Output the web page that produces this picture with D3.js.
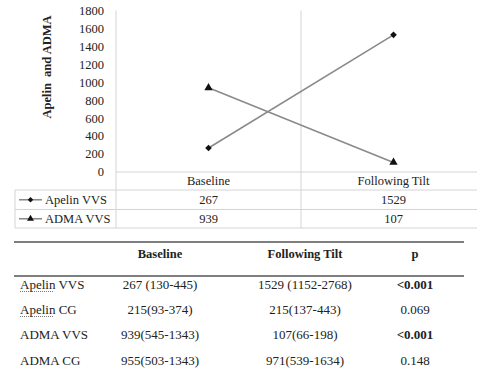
<!DOCTYPE html>
<html>
<head>
<meta charset="utf-8">
<script src="https://cdn.jsdelivr.net/npm/d3@7"></script>
<style>
  body { margin: 0; background: #fff; }
</style>
</head>
<body>
<div id="chart"></div>
<script>
// DATA
const categories = ["Baseline", "Following Tilt"];
const seriesNames = ["Apelin VVS", "ADMA VVS"];
const apelinVVS = [267, 1529];
const admaVVS = [939, 107];
const yTicks = [0, 200, 400, 600, 800, 1000, 1200, 1400, 1600, 1800];

const tableHeader = ["", "Baseline", "Following Tilt", "p"];
const tableRows = ["Apelin VVS", "Apelin CG", "ADMA VVS", "ADMA CG"];
const tableBaseline = ["267 (130-445)", "215(93-374)", "939(545-1343)", "955(503-1343)"];
const tableTilt = ["1529 (1152-2768)", "215(137-443)", "107(66-198)", "971(539-1634)"];
const tableP = ["<0.001", "0.069", "<0.001", "0.148"];

const width = 477, height = 376;
const serif = '"Liberation Serif", "Times New Roman", serif';

const svg = d3.select("#chart").append("svg")
  .attr("width", width).attr("height", height)
  .style("display", "block")
  .style("font-family", serif);

// CHART
const plot = { left: 116, right: 486, top: 10.5, bottom: 172 };
const gridColor = "#d4d4d4";

const x = d3.scaleBand().domain(categories).range([plot.left, plot.right]);
const y = d3.scaleLinear().domain([0, 1800]).range([plot.bottom, plot.top]);
const cx = (c) => x(c) + x.bandwidth() / 2;

// y axis labels
svg.append("g")
  .selectAll("text")
  .data(yTicks)
  .join("text")
  .attr("x", 104)
  .attr("y", (d) => y(d))
  .attr("dy", "0.35em")
  .attr("text-anchor", "end")
  .style("font-family", serif)
  .attr("font-size", 12.5)
  .attr("fill", "#222")
  .text((d) => d);

svg.append("text")
  .attr("transform", `translate(51,${(17 + 117) / 2}) rotate(-90)`)
  .attr("text-anchor", "middle")
  .style("font-family", serif)
  .attr("font-size", 12.5)
  .attr("font-weight", "bold")
  .attr("fill", "#222")
  .attr("xml:space", "preserve")
  .text("Apelin  and ADMA");

// data table rows
const rowLines = [plot.bottom, 190, 209.5, 228];
const tableLeft = 15;

svg.append("g")
  .selectAll("line")
  .data(rowLines)
  .join("line")
  .attr("x1", (d, i) => (i === 0 ? plot.left : tableLeft))
  .attr("x2", width)
  .attr("y1", (d) => d)
  .attr("y2", (d) => d)
  .attr("stroke", gridColor);

// vertical lines
svg.append("line")
  .attr("x1", plot.left).attr("x2", plot.left)
  .attr("y1", plot.top).attr("y2", 228)
  .attr("stroke", gridColor);
svg.append("line")
  .attr("x1", x("Following Tilt")).attr("x2", x("Following Tilt"))
  .attr("y1", plot.top).attr("y2", 228)
  .attr("stroke", gridColor);
svg.append("line")
  .attr("x1", tableLeft).attr("x2", tableLeft)
  .attr("y1", 190).attr("y2", 228)
  .attr("stroke", gridColor);

// category labels
svg.append("g")
  .selectAll("text")
  .data(categories)
  .join("text")
  .attr("x", (d) => cx(d))
  .attr("y", 181)
  .attr("dy", "0.35em")
  .attr("text-anchor", "middle")
  .style("font-family", serif)
  .attr("font-size", 12.5)
  .attr("fill", "#222")
  .text((d) => d);

const series = [
  { name: seriesNames[0], values: apelinVVS, symbol: d3.symbolSquare, rot: 45, size: 22 },
  { name: seriesNames[1], values: admaVVS, symbol: d3.symbolTriangle, rot: 0, size: 30 },
];

const line = d3.line()
  .x((d, i) => cx(categories[i]))
  .y((d) => y(d));

series.forEach(function (s, si) {
  svg.append("path")
    .attr("d", line(s.values))
    .attr("fill", "none")
    .attr("stroke", "#8a8a8a")
    .attr("stroke-width", 1.6);

  svg.append("g")
    .selectAll("path")
    .data(s.values)
    .join("path")
    .attr("transform", (d, i) => `translate(${cx(categories[i])},${y(d)}) rotate(${s.rot})`)
    .attr("d", d3.symbol().type(s.symbol).size(s.size))
    .attr("fill", "#111");

  const rowY = (rowLines[si + 1] + rowLines[si + 2]) / 2;

  // legend key
  svg.append("line")
    .attr("x1", 19).attr("x2", 42)
    .attr("y1", rowY).attr("y2", rowY)
    .attr("stroke", "#8a8a8a")
    .attr("stroke-width", 1.6);
  svg.append("path")
    .attr("transform", `translate(30.5,${rowY}) rotate(${s.rot})`)
    .attr("d", d3.symbol().type(s.symbol).size(s.size * 0.7))
    .attr("fill", "#111");
  svg.append("text")
    .attr("x", 45)
    .attr("y", rowY)
    .attr("dy", "0.35em")
    .style("font-family", serif)
    .attr("font-size", 12.5)
    .attr("fill", "#222")
    .text(s.name);

  svg.append("g")
    .selectAll("text")
    .data(s.values)
    .join("text")
    .attr("x", (d, i) => cx(categories[i]))
    .attr("y", rowY)
    .attr("dy", "0.35em")
    .attr("text-anchor", "middle")
    .style("font-family", serif)
    .attr("font-size", 12.5)
    .attr("fill", "#222")
    .text((d) => d);
});

// LOWER TABLE
const colX = [20, 160, 305, 415];
const headY = 254;
const rowYs = [284, 309, 334, 360];

svg.append("line")
  .attr("x1", 14).attr("x2", 464)
  .attr("y1", 242).attr("y2", 242)
  .attr("stroke", "#555").attr("stroke-width", 1.3);
svg.append("line")
  .attr("x1", 14).attr("x2", 464)
  .attr("y1", 276).attr("y2", 276)
  .attr("stroke", "#555").attr("stroke-width", 1.3);

svg.append("g")
  .selectAll("text")
  .data(tableHeader)
  .join("text")
  .attr("x", (d, i) => colX[i])
  .attr("y", headY)
  .attr("dy", "0.35em")
  .attr("text-anchor", (d, i) => (i === 0 ? "start" : "middle"))
  .style("font-family", serif)
  .attr("font-size", 12.5)
  .attr("font-weight", "bold")
  .attr("fill", "#222")
  .text((d) => d);

const rows = tableRows.map((r, i) => [r, tableBaseline[i], tableTilt[i], tableP[i]]);

const rowG = svg.append("g")
  .selectAll("g")
  .data(rows)
  .join("g")
  .attr("transform", (d, i) => `translate(0,${rowYs[i]})`);

rowG.selectAll("text")
  .data((d) => d)
  .join("text")
  .attr("x", (d, i) => colX[i])
  .attr("dy", "0.35em")
  .attr("text-anchor", (d, i) => (i === 0 ? "start" : "middle"))
  .style("font-family", serif)
  .attr("font-size", 13)
  .attr("font-weight", (d, i) => (i === 3 && d.startsWith("<") ? "bold" : "normal"))
  .attr("fill", "#222")
  .text((d) => d);

// spell-check style dotted underline under "Apelin"
rowG.filter((d) => d[0].startsWith("Apelin"))
  .append("line")
  .attr("x1", 20).attr("x2", 53)
  .attr("y1", 7.5).attr("y2", 7.5)
  .attr("stroke", "#555")
  .attr("stroke-width", 0.8)
  .attr("stroke-dasharray", "1,1");
</script>
</body>
</html>
